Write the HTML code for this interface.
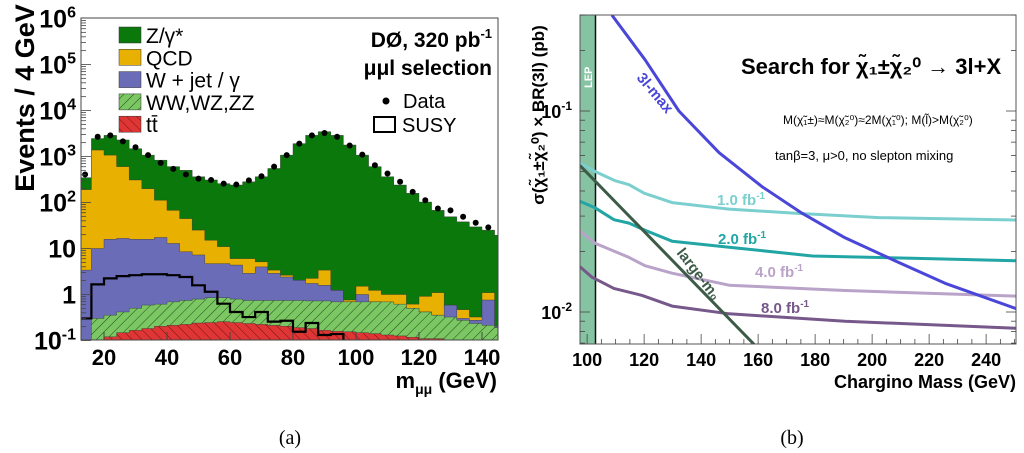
<!DOCTYPE html>
<html><head><meta charset="utf-8"><style>
body{margin:0;background:#fff;width:1024px;height:453px;overflow:hidden}
svg{position:absolute;left:0;top:0}
text{font-family:"Liberation Sans",sans-serif}
</style></head><body>
<svg id="s" width="1024" height="453" viewBox="0 0 1024 453">
<defs>
<pattern id="hw" width="7" height="7" patternUnits="userSpaceOnUse" patternTransform="rotate(45)"><rect width="7" height="7" fill="#7ac763"/><line x1="0" y1="0" x2="0" y2="7" stroke="#1a3a10" stroke-width="0.9"/></pattern>
<pattern id="ht" width="7" height="7" patternUnits="userSpaceOnUse" patternTransform="rotate(-45)"><rect width="7" height="7" fill="#e03535"/><line x1="0" y1="0" x2="0" y2="7" stroke="#601010" stroke-width="0.9"/></pattern>
<clipPath id="cl"><rect x="81" y="18" width="417" height="322"/></clipPath>
<clipPath id="cr"><rect x="580" y="15" width="436" height="329"/></clipPath>
</defs>
</svg>
<script>
// ---------- Left chart data (log10 of stacked tops, bins of 4 GeV from 12) ----------
const binEdgesStart = 12;
const zTop   = [2.54,3.39,3.46,3.36,3.17,3.03,2.92,2.78,2.70,2.56,2.49,2.41,2.38,2.45,2.56,2.74,3.03,3.28,3.46,3.54,3.46,3.25,3.03,2.78,2.56,2.38,2.20,2.01,1.83,1.69,1.58,1.47,1.40,1.29];
const qcdTop = [2.28,3.14,3.03,2.78,2.49,2.30,2.05,1.83,1.65,1.40,1.18,1.04,0.78,0.78,0.71,0.53,0.42,0.31,0.35,0.53,0.09,-0.12,0.18,0.09,0.00,0.00,-0.21,-0.04,0.04,-0.30,-0.33,-0.49,0.04,-0.69];
const wTop   = [0.53,1.00,1.20,1.22,1.20,1.20,1.24,1.11,0.93,0.86,0.67,0.67,0.64,0.46,0.60,0.46,0.38,0.31,0.24,0.20,0.09,-0.16,0.00,-0.16,-0.23,-0.23,-0.30,-0.38,-0.45,-0.23,-0.52,-0.56,-0.12,-0.69];
const vvTop  = [-1.0,-0.52,-0.45,-0.38,-0.30,-0.23,-0.21,-0.16,-0.13,-0.10,-0.07,-0.07,-0.10,-0.13,-0.13,-0.13,-0.13,-0.13,-0.14,-0.14,-0.16,-0.16,-0.16,-0.16,-0.16,-0.21,-0.30,-0.38,-0.45,-0.49,-0.56,-0.63,-0.67,-0.72];
const ttTop  = [-1.1,-1.1,-0.92,-0.83,-0.78,-0.74,-0.69,-0.67,-0.65,-0.62,-0.61,-0.59,-0.61,-0.63,-0.65,-0.67,-0.69,-0.72,-0.74,-0.78,-0.80,-0.81,-0.83,-0.85,-0.88,-0.90,-0.93,-0.96,-0.96,-1.1,-1.1,-1.1,-1.1,-1.1];
const susy   = [-0.52,0.22,0.35,0.40,0.42,0.44,0.44,0.42,0.38,0.20,0.06,-0.20,-0.38,-0.49,-0.38,-0.59,-0.57,-0.81,-0.62,-0.88,-0.86,-1.1,-1.1,-1.1,-1.1,-1.1,-1.1,-1.1,-1.1,-1.1,-1.1,-1.1,-1.1,-1.1];
const dataPts= [2.61,3.43,3.46,3.33,3.20,3.03,2.86,2.73,2.61,2.52,2.49,2.41,2.39,2.48,2.57,2.78,3.03,3.28,3.46,3.51,3.43,3.24,3.04,2.81,2.63,2.45,2.23,2.05,1.87,1.83,1.69,1.56,1.46,1.40];
const xTicksL = [20,40,60,80,100,120,140];
const yTicksL = ["10^-1","1","10","10^2","10^3","10^4","10^5","10^6"];
// ---------- Right chart data ----------
const mass3l = [108.7,120.3,132.2,146.3,161.4,175.4,190.5,208,225.6,250.5];
const val3l  = [0.30,0.18,0.10,0.062,0.042,0.031,0.0234,0.018,0.0139,0.0104];
const mass1 = [97.5,102.8,109.8,114.7,120,129.8,149.8,173,202.4,250.5];
const val1  = [0.055,0.050,0.045,0.043,0.039,0.035,0.0325,0.031,0.0295,0.0287];
const mass2 = [97.5,102.8,109.4,114.7,120,129.8,149.8,179,214,250.5];
const val2  = [0.0355,0.033,0.0288,0.0277,0.0256,0.0225,0.021,0.019,0.0185,0.018];
const mass4 = [97.5,102.8,114.7,120.3,129.8,149.8,190.5,250.5];
const val4  = [0.0253,0.022,0.0187,0.017,0.0156,0.0136,0.0128,0.012];
const mass8 = [97.5,101.7,109.4,119.3,129.8,149.8,190.5,250.5];
const val8  = [0.0168,0.0149,0.0131,0.0121,0.0107,0.0098,0.0090,0.0083];
const massM0 = [97.5,158.6];
const valM0  = [0.0535,0.0069];
const xTicksR = [100,120,140,160,180,200,220,240];

const S=document.getElementById('s'),NS='http://www.w3.org/2000/svg';
function mk(t,a,txt,par){const e=document.createElementNS(NS,t);for(const k in a)e.setAttribute(k,a[k]);if(txt!=null)e.textContent=txt;(par||S).appendChild(e);return e;}
// Left axes
const lx=v=>81+(v-12.7)*3.15, ly=l=>18.5+(6-l)*46.0;
const gL=mk('g',{'clip-path':'url(#cl)'});

function stepPath(arr,base){let d='M'+lx(binEdgesStart)+','+ly(base);arr.forEach((v,i)=>{const x0=lx(binEdgesStart+4*i),x1=lx(binEdgesStart+4*i+4);d+='L'+x0+','+ly(v)+'L'+x1+','+ly(v);});d+='L'+lx(binEdgesStart+4*arr.length)+','+ly(base)+'Z';return d;}
[[zTop,'#0b780b','z-gamma-stack'],[qcdTop,'#e8b000','qcd-stack'],[wTop,'#6a6cb8','w-jet-stack'],[vvTop,'url(#hw)','diboson-stack'],[ttTop,'url(#ht)','ttbar-stack']].forEach(([a,c,n])=>{
 const p=mk('path',{d:stepPath(a,-1.2),fill:c,stroke:'#333','stroke-width':0.4},null,gL);
 });
{let d='';susy.forEach((v,i)=>{const x0=lx(binEdgesStart+4*i),x1=lx(binEdgesStart+4*i+4);d+=(i?'L':'M')+x0+','+ly(v)+'L'+x1+','+ly(v);});
 const p=mk('path',{d,fill:'none',stroke:'#000','stroke-width':2.2},null,gL);}
dataPts.forEach((v,i)=>{const c=mk('circle',{cx:lx(binEdgesStart+4*i+2),cy:ly(v),r:3,fill:'#000'},null,gL);
 });
mk('rect',{x:81,y:18,width:417,height:322,fill:'none',stroke:'#444','stroke-width':1});
for(let d=-1;d<6;d++)for(let k=1;k<10;k++){const y=ly(d+Math.log10(k));mk('line',{x1:81,x2:81+(k==1?10:5),y1:y,y2:y,stroke:'#444','stroke-width':0.8});}
xTicksL.forEach(v=>{mk('line',{x1:lx(v),x2:lx(v),y1:340,y2:332,stroke:'#444'});
 const t=mk('text',{x:lx(v),y:365,'text-anchor':'middle','font-size':22,'font-weight':'bold'},v);});
yTicksL.forEach((s,i)=>{const y=ly(i-1)+9;const t=mk('text',{x:76,y,'text-anchor':'end','font-size':25,'font-weight':'bold'});
 
 const p=s.split('^');mk('tspan',{},p[0],t);if(p[1])mk('tspan',{dy:-10,'font-size':16},p[1],t);});
{const t=mk('text',{x:0,y:0,transform:'translate(34,98) rotate(-90)','text-anchor':'middle','font-size':27,'font-weight':'bold'},'Events / 4 GeV');}
{const t=mk('text',{x:497,y:388,'text-anchor':'end','font-size':22,'font-weight':'bold'});
 mk('tspan',{},'m',t);mk('tspan',{dy:6,'font-size':14},'μμ',t);mk('tspan',{dy:-6},' (GeV)',t);}
[['#0b780b','Z/γ*'],['#e8b000','QCD'],['#6a6cb8','W + jet / γ'],['url(#hw)','WW,WZ,ZZ'],['url(#ht)','tt̄']].forEach(([c,l],i)=>{
 const y=27+i*22.3;const r=mk('rect',{x:119,y,width:22,height:16,fill:c,stroke:'#333','stroke-width':0.5});
 const t=mk('text',{x:146,y:y+16,'font-size':21},l);});
{const t=mk('text',{x:492,y:47,'text-anchor':'end','font-size':21,'font-weight':'bold'});
 mk('tspan',{},'DØ, 320 pb',t);mk('tspan',{dy:-9,'font-size':13},'-1',t);}
{const t=mk('text',{x:492,y:75,'text-anchor':'end','font-size':21,'font-weight':'bold'},'μμl selection');}
mk('circle',{cx:386,cy:101,r:3.5,fill:'#000'});
{const t=mk('text',{x:403,y:108,'font-size':20},'Data');}
mk('rect',{x:374,y:117,width:21,height:15,fill:'none',stroke:'#000','stroke-width':2});
{const t=mk('text',{x:402,y:132,'font-size':20},'SUSY');}
// Right axes
const rx=m=>580+(m-97.5)*2.85, ry=v=>111-(Math.log10(v)+1)*201;
const gR=mk('g',{'clip-path':'url(#cr)'});
mk('rect',{x:580,y:15,width:15,height:329,fill:'#86c3a2'},null,gR);
mk('line',{x1:595.5,x2:595.5,y1:15,y2:344,stroke:'#111','stroke-width':1.5},null,gR);
{const t=mk('text',{x:0,y:0,transform:'translate(592,88) rotate(-90)','font-size':11,'font-weight':'bold',fill:'#fff'},'LEP');}
function line(ms,vs,c,n){let d='';ms.forEach((m,i)=>d+=(i?'L':'M')+rx(m).toFixed(1)+','+ry(vs[i]).toFixed(1));const p=mk('path',{d,fill:'none',stroke:c,'stroke-width':3,'stroke-linejoin':'round'},null,gR);}
line(mass1,val1,'#7ccfcf','curve-1fb');line(mass2,val2,'#22a5a5','curve-2fb');line(mass4,val4,'#b9a3c9','curve-4fb');line(mass8,val8,'#76588a','curve-8fb');line(massM0,valM0,'#3d5c48','curve-large-m0');line(mass3l,val3l,'#4a46d8','curve-3l-max');
mk('rect',{x:580,y:15,width:436,height:329,fill:'none',stroke:'#555','stroke-width':1});
for(let d=-3;d<0;d++)for(let k=1;k<10;k++){const y=ry(Math.pow(10,d)*k);if(y<15||y>344)continue;
 mk('line',{x1:580,x2:580+(k==1?10:5),y1:y,y2:y,stroke:'#444','stroke-width':0.8});mk('line',{x1:1016,x2:1016-(k==1?10:5),y1:y,y2:y,stroke:'#444','stroke-width':0.8});}
for(let m=100;m<=250;m+=5){const x=rx(m);mk('line',{x1:x,x2:x,y1:344,y2:344-(m%20==0?10:5),stroke:'#444','stroke-width':0.8});}
xTicksR.forEach(v=>{const t=mk('text',{x:rx(v),y:366,'text-anchor':'middle','font-size':18,'font-weight':'bold'},v);});
[[0.1,'-1'],[0.01,'-2']].forEach(([v,e])=>{const t=mk('text',{x:572,y:ry(v)+7,'text-anchor':'end','font-size':18,'font-weight':'bold'});mk('tspan',{},'10',t);mk('tspan',{dy:-8,'font-size':12},e,t);});
{const t=mk('text',{x:1016,y:388,'text-anchor':'end','font-size':18,'font-weight':'bold'},'Chargino Mass (GeV)');}
{const t=mk('text',{x:0,y:0,transform:'translate(544,115) rotate(-90)','text-anchor':'middle','font-size':17,'font-weight':'bold'},'σ(χ̃₁±χ̃₂⁰) × BR(3l) (pb)');}
{const t=mk('text',{x:741,y:74,'font-size':22,'font-weight':'bold'},'Search for χ̃₁±χ̃₂⁰ → 3l+X');}
{const t=mk('text',{x:783,y:124,'font-size':12},'M(χ̃₁±)≈M(χ̃₂⁰)≈2M(χ̃₁⁰); M(l̃)>M(χ̃₂⁰)');}
{const t=mk('text',{x:775,y:160,'font-size':13},'tanβ=3, μ>0, no slepton mixing');}
function lbl(x,y,s,c,rot,n){const t=mk('text',{x,y,'font-size':15,'font-weight':'bold',fill:c,transform:rot?`rotate(${rot} ${x} ${y})`:''});const p=s.split('^');mk('tspan',{},p[0],t);if(p[1])mk('tspan',{dy:-6,'font-size':10},p[1],t);}
lbl(717,205,'1.0 fb^-1','#7ccfcf',0,'label-1fb');lbl(718,244,'2.0 fb^-1','#22a5a5',0,'label-2fb');lbl(755,277,'4.0 fb^-1','#b9a3c9',0,'label-4fb');lbl(761,313,'8.0 fb^-1','#76588a',0,'label-8fb');
lbl(636,78,'3l-max','#4a46d8',50,'label-3l-max');lbl(676,253,'large-m₀','#3d5c48',52,'label-large-m0');
// captions
[[290,'(a)'],[792,'(b)']].forEach(([x,s])=>{const t=mk('text',{x,y:444,'text-anchor':'middle','font-size':20,style:'font-family:"Liberation Serif",serif'},s);});
</script>
</body></html>
